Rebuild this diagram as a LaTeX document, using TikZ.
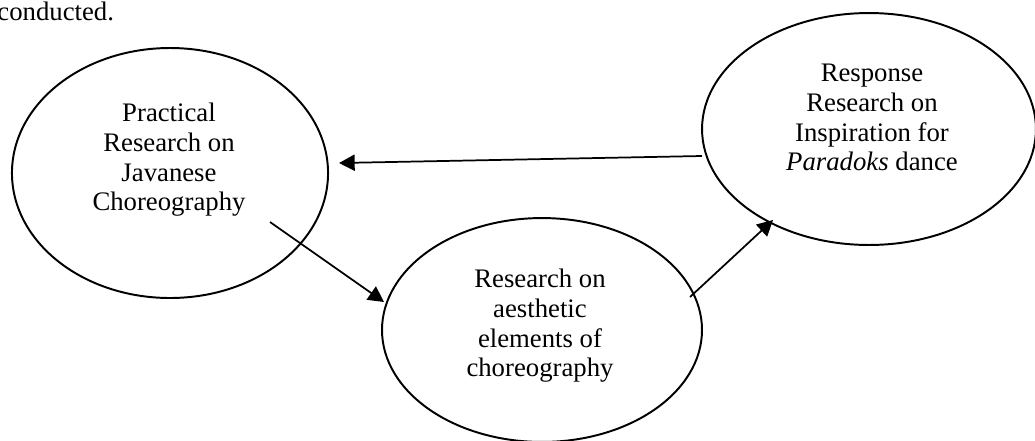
\documentclass[tikz,border=0pt]{standalone}
\usepackage{fontspec}
\setmainfont{Liberation Serif}
\usetikzlibrary{shapes.geometric,arrows.meta}
\begin{document}
\begin{tikzpicture}[x=0.46pt,y=-0.46pt,
  bubble/.style={draw,ellipse,line width=0.9pt,inner sep=0pt,outer sep=0pt},
  btext/.style={anchor=north,align=center,inner sep=0pt,font=\fontsize{12.3pt}{13.6pt}\selectfont},
  conn/.style={line width=0.8pt,-{Triangle[length=7.2pt,width=7.4pt]}}]
\useasboundingbox (0,0) rectangle (1035,440);
\node[anchor=base west,inner sep=0pt,font=\fontsize{12.3pt}{13.6pt}\selectfont] (cond) at (-3,20) {conducted.};
\node[bubble,minimum width=145.4pt,minimum height=115pt] (prac) at (170,173) {};
\node[bubble,minimum width=147.2pt,minimum height=103pt] (aes) at (542,330) {};
\node[bubble,minimum width=153.6pt,minimum height=106.7pt] (resp) at (869,129) {};
\node[btext] (pract) at (169,103) {Practical\\Research on\\Javanese\\Choreography};
\node[btext] (aest) at (540,269) {Research on\\aesthetic\\elements of\\choreography};
\node[btext] (respt) at (872,64) {Response\\Research on\\Inspiration for\\\textit{Paradoks} dance};
\coordinate (a1s) at (702,156);
\coordinate (a1e) at (339,163);
\coordinate (a2s) at (270,222);
\coordinate (a2e) at (384,302);
\coordinate (a3s) at (690,297);
\coordinate (a3e) at (773,220);
\draw[conn] (a1s) -- (a1e);
\draw[conn] (a2s) -- (a2e);
\draw[conn] (a3s) -- (a3e);
\end{tikzpicture}
\end{document}
